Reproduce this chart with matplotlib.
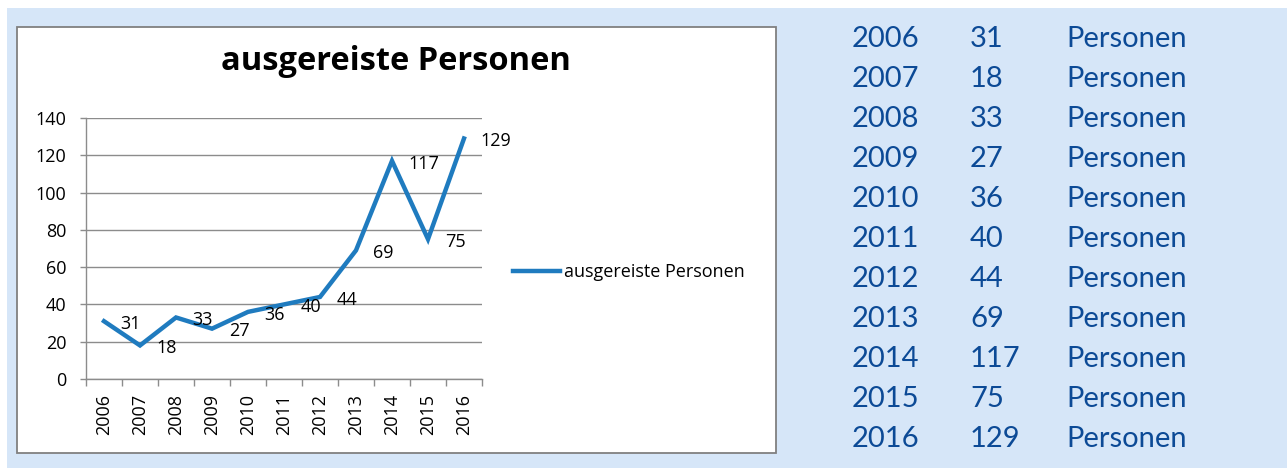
import matplotlib
matplotlib.use('Agg')
import matplotlib.pyplot as plt
from matplotlib.patches import Rectangle

# data
years = ['2006', '2007', '2008', '2009', '2010', '2011',
         '2012', '2013', '2014', '2015', '2016']
persons = [31, 18, 33, 27, 36, 40, 44, 69, 117, 75, 129]
series_name = 'ausgereiste Personen'
unit_label = 'Personen'

W, H = 1287, 468
lineBlue = '#1F7BBF'
panelBlue = '#D6E6F8'
textBlue = '#0C4A96'
grey = '#8C8C8C'

plt.rcParams['font.family'] = ['Open Sans', 'DejaVu Sans']

fig = plt.figure(figsize=(W / 100, H / 100), dpi=100)
fig.patch.set_facecolor('white')


def fx(px):
    return px / W


def fy(py):
    return 1 - py / H


# light blue panel and white chart box
fig.patches.append(Rectangle((fx(7), 0), 1 - fx(7), fy(8), transform=fig.transFigure,
                             facecolor=panelBlue, edgecolor='none', zorder=0))
fig.patches.append(Rectangle((fx(17), fy(453)), fx(776) - fx(17), fy(27) - fy(453),
                             transform=fig.transFigure, facecolor='white',
                             edgecolor='#808080', linewidth=1.3, zorder=1))

# line chart
ax = fig.add_axes([fx(86), fy(379), fx(482) - fx(86), fy(118) - fy(379)])
ax.set_zorder(2)
ax.patch.set_alpha(0)
x = list(range(len(years)))
ax.plot(x, persons, color=lineBlue, linewidth=3.2, solid_joinstyle='miter',
        label=series_name, zorder=3)
for xi, v in zip(x, persons):
    ax.annotate(str(v), (xi, v), xytext=(12, -2), textcoords='offset points',
                ha='left', va='center', fontsize=13, color='black', zorder=4,
                annotation_clip=False)

ax.set_xlim(-0.5, len(years) - 0.5)
ax.set_ylim(0, 140)
ax.set_yticks(range(0, 141, 20))
ax.set_xticks(x)
ax.set_xticklabels(years, rotation=90, fontsize=13)
ax.set_xticks([i - 0.5 for i in range(len(years) + 1)], minor=True)
ax.tick_params(axis='x', which='major', length=0, pad=11)
ax.tick_params(axis='x', which='minor', length=5, color=grey, width=1)
ax.tick_params(axis='y', length=4.3, color=grey, width=1, labelsize=13, pad=10)
ax.grid(axis='y', color=grey, linewidth=1)
ax.set_axisbelow(True)
for s in ['top', 'right']:
    ax.spines[s].set_visible(False)
for s in ['left', 'bottom']:
    ax.spines[s].set_color(grey)
    ax.spines[s].set_linewidth(1)

fig.text(fx(396), fy(70), series_name, ha='center', va='baseline',
         fontsize=23.5, fontweight='bold', zorder=5)

ax.legend(loc='center left', bbox_to_anchor=(fx(513), fy(272)),
          bbox_transform=fig.transFigure, frameon=False, fontsize=13,
          handlelength=2.6, handletextpad=0.25, borderpad=0, borderaxespad=0)

# table on the right
for i, (yr, v) in enumerate(zip(years, persons)):
    yy = fy(39 + 40 * i)
    for xpos, s in [(852, yr), (970, str(v)), (1066, unit_label)]:
        fig.text(fx(xpos), yy, s, ha='left', va='center', fontsize=21,
                 color=textBlue, family='Lato')

fig.savefig('out.png', dpi=100)
